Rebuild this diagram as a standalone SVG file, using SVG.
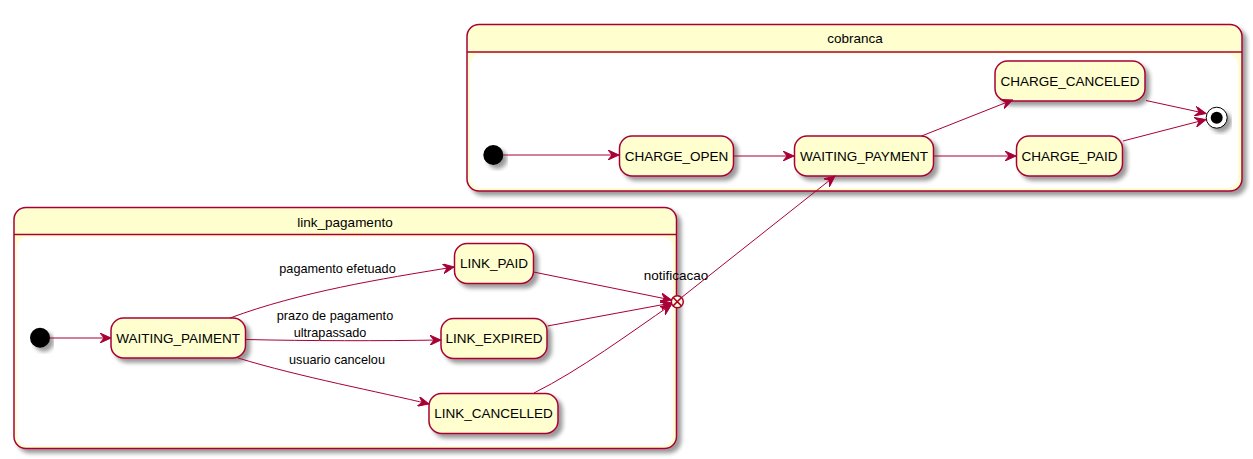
<svg xmlns="http://www.w3.org/2000/svg" width="1253" height="459" viewBox="0 0 1253 459">
<defs>
<filter id="sh" x="-10%" y="-10%" width="130%" height="140%">
<feGaussianBlur in="SourceAlpha" stdDeviation="2"/>
<feOffset dx="4" dy="4" result="b"/>
<feComponentTransfer in="b" result="c"><feFuncA type="linear" slope="0.4"/></feComponentTransfer>
<feMerge><feMergeNode in="c"/><feMergeNode in="SourceGraphic"/></feMerge>
</filter>
<marker id="arr" viewBox="0 0 12 10" refX="11" refY="5" markerWidth="12" markerHeight="10" markerUnits="userSpaceOnUse" orient="auto">
<path d="M0,0 L11,5 L0,10 L4,5 Z" fill="#A80036" stroke="#A80036" stroke-width="1"/>
</marker>
</defs>
<style>
.cont{fill:#FEFECE;stroke:#A80036;stroke-width:1.5}
.inner{fill:#FFFFFF;stroke:none}
.st{fill:#FEFECE;stroke:#A80036;stroke-width:1.5}
.t{font-family:"Liberation Sans",Arial,sans-serif;font-size:13.5px;fill:#000;text-anchor:middle}
.lbl{font-family:"Liberation Sans",Arial,sans-serif;font-size:12.7px;fill:#000;text-anchor:middle}
.e{fill:none;stroke:#A80036;stroke-width:1;marker-end:url(#arr)}
</style>
<rect width="1253" height="459" fill="#FFFFFF"/>

<g id="cobranca">
<rect class="cont" x="467" y="24.5" width="775" height="166.5" rx="12" filter="url(#sh)"/>
<rect class="inner" x="470" y="54" width="768" height="134" rx="10"/>
<line x1="467" y1="52" x2="1242" y2="52" stroke="#A80036" stroke-width="1.5"/>
<text class="t" x="855" y="43">cobranca</text>
</g>

<g id="link_pagamento">
<rect class="cont" x="14" y="207.5" width="662.5" height="241" rx="12" filter="url(#sh)"/>
<rect class="inner" x="17" y="237" width="656" height="209" rx="10"/>
<line x1="14" y1="234.5" x2="676.5" y2="234.5" stroke="#A80036" stroke-width="1.5"/>
<text class="t" x="345" y="227">link_pagamento</text>
</g>

<g id="cobranca_start">
<circle cx="493.3" cy="155" r="10" fill="#000" filter="url(#sh)"/>
</g>
<g id="CHARGE_OPEN">
<rect class="st" x="619.5" y="136" width="114" height="40" rx="12.5" filter="url(#sh)"/>
<text class="t" x="676.5" y="160.7">CHARGE_OPEN</text>
</g>
<g id="WAITING_PAYMENT">
<rect class="st" x="794.5" y="136" width="139" height="40" rx="12.5" filter="url(#sh)"/>
<text class="t" x="864" y="160.7">WAITING_PAYMENT</text>
</g>
<g id="CHARGE_CANCELED">
<rect class="st" x="995" y="61" width="150" height="40" rx="12.5" filter="url(#sh)"/>
<text class="t" x="1070" y="85.7">CHARGE_CANCELED</text>
</g>
<g id="CHARGE_PAID">
<rect class="st" x="1016.5" y="136" width="106" height="40" rx="12.5" filter="url(#sh)"/>
<text class="t" x="1069.5" y="160.7">CHARGE_PAID</text>
</g>
<g id="cobranca_end">
<circle cx="1216.7" cy="117.7" r="10.5" fill="#FFFFFF" stroke="#000" stroke-width="1" filter="url(#sh)"/>
<circle cx="1216.7" cy="117.7" r="6" fill="#000"/>
</g>

<g id="link_start">
<circle cx="40" cy="337.7" r="10" fill="#000" filter="url(#sh)"/>
</g>
<g id="WAITING_PAIMENT">
<rect class="st" x="111" y="318" width="134.5" height="40" rx="12.5" filter="url(#sh)"/>
<text class="t" x="178.2" y="342.7">WAITING_PAIMENT</text>
</g>
<g id="LINK_PAID">
<rect class="st" x="454.5" y="243.5" width="79" height="40" rx="12.5" filter="url(#sh)"/>
<text class="t" x="494" y="268.2">LINK_PAID</text>
</g>
<g id="LINK_EXPIRED">
<rect class="st" x="441" y="318.5" width="106" height="40" rx="12.5" filter="url(#sh)"/>
<text class="t" x="494" y="343.2">LINK_EXPIRED</text>
</g>
<g id="LINK_CANCELLED">
<rect class="st" x="429" y="393.5" width="129" height="40" rx="12.5" filter="url(#sh)"/>
<text class="t" x="493.5" y="418.2">LINK_CANCELLED</text>
</g>
<g id="notificacao">
<circle cx="677.3" cy="301.7" r="6" fill="#FEFECE" stroke="#A80036" stroke-width="1.5"/>
<path d="M673.1,297.5 L681.5,305.9 M681.5,297.5 L673.1,305.9" stroke="#A80036" stroke-width="1.5"/>
<text class="t" x="676" y="280">notificacao</text>
</g>

<g id="connectors">
<path class="e" d="M503.3,155 L619,155"/>
<path class="e" d="M733.5,156 L794,156"/>
<path class="e" d="M921.5,136 L1012.5,100"/>
<path class="e" d="M933.5,156 L1016,156"/>
<path class="e" d="M1146,100.5 L1206,113.5"/>
<path class="e" d="M1123,141 L1206,119.5"/>
<path class="e" d="M50,338 L111,338"/>
<path class="e" d="M230,318 C300,292 380,279 454,267"/>
<path class="e" d="M245.5,339.5 C310,341 380,341 441,340"/>
<path class="e" d="M238,358 C300,377 380,392 429,404"/>
<path class="e" d="M533.5,272 L671.5,300"/>
<path class="e" d="M547.5,326 L671.5,303"/>
<path class="e" d="M534,393 C580,370 630,333 671.5,304.5"/>
<path class="e" d="M681.5,297.5 L835,176"/>
<text class="lbl" x="337.5" y="273">pagamento efetuado</text>
<text class="lbl" x="335" y="320">prazo de pagamento</text>
<text class="lbl" x="330" y="337">ultrapassado</text>
<text class="lbl" x="337" y="364">usuario cancelou</text>
</g>
</svg>
